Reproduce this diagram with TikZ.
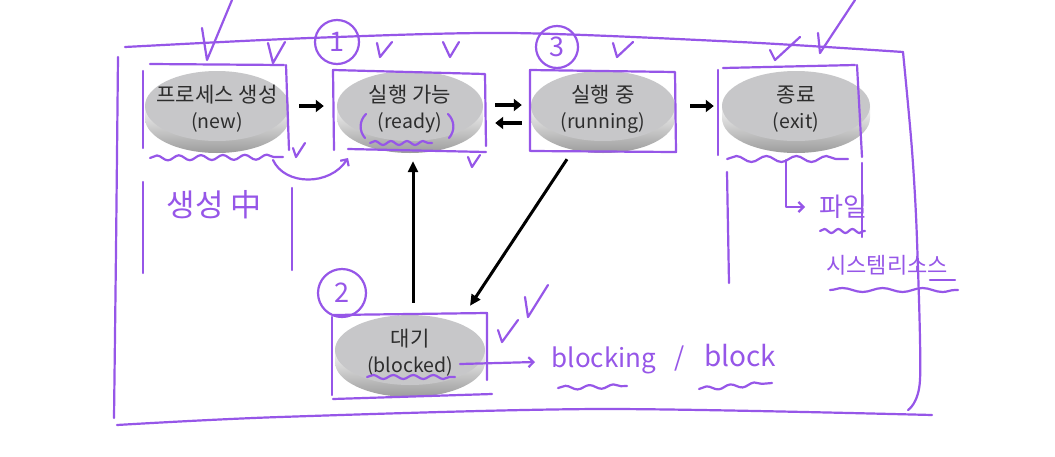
\documentclass[tikz,border=0pt]{standalone}
\usepackage{fontspec}
\setmainfont{Noto Sans CJK KR}
\newfontfamily\ko[Scale=1.08]{Noto Sans CJK KR}
\usetikzlibrary{arrows.meta,shapes.geometric,decorations.pathmorphing,calc}
\definecolor{pp}{RGB}{150,86,232}
\definecolor{txt}{RGB}{45,45,45}
\definecolor{facegray}{RGB}{199,199,201}
\newcommand\procdisc[5]{% name, x, y, rx, text
  \shade[top color=gray!8, bottom color=gray!78] (#2-#4,#3) -- (#2-#4,#3+12)
     arc[start angle=180, end angle=360, x radius=#4pt, y radius=35pt] -- (#2+#4,#3) -- cycle;
  \node[face, minimum width=2*#4pt] (#1) at (#2,#3) {};
  \node[facetext] at ($(#1.center)+(0,3)$) {#5};
}
\begin{document}
\begin{tikzpicture}[x=1pt,y=-1pt,
  face/.style={ellipse, minimum height=70pt, inner sep=0pt, fill=facegray},
  facetext/.style={align=center, inner sep=0pt, font=\fontsize{19.5}{26}\selectfont, text=txt},
  blk/.style={line width=4pt, -{Triangle[length=8pt,width=12pt]}},
  blkl/.style={line width=3pt, -{Triangle[length=11pt,width=10pt]}},
  hand/.style={draw=pp, line width=2.2pt, line cap=round, line join=round},
  wavy/.style={hand, decorate, decoration={snake, amplitude=2.5pt, segment length=22pt}},
  parr/.style={hand, -{Straight Barb[length=5pt,width=10pt]}},
  htext/.style={text=pp, inner sep=0pt},
  num/.style={hand, circle, inner sep=0pt, text=pp, font=\fontsize{27}{27}\selectfont}
]
\fill[white] (0,0) rectangle (1055,456);
\useasboundingbox (0,0) rectangle (1055,456);

% discs
\procdisc{new}{217}{106}{72}{{\ko 프로세스 생성}\\(new)}
\procdisc{ready}{410}{106}{73}{{\ko 실행 가능}\\(ready)}
\procdisc{running}{603}{106}{72}{{\ko 실행 중}\\(running)}
\procdisc{exit}{796}{106}{74}{{\ko 종료}\\(exit)}
\procdisc{blocked}{410}{350}{75}{{\ko 대기}\\(blocked)}

% black transitions
\draw[blk, shorten <=10pt, shorten >=13pt] (new) -- (ready);
\draw[blk, shorten <=12pt, shorten >=9pt] ([yshift=1pt]ready.east) -- ([yshift=1pt]running.west);
\draw[blk, shorten <=9pt, shorten >=12pt] ([yshift=-17pt]running.west) -- ([yshift=-17pt]ready.east);
\draw[blk, shorten <=15pt, shorten >=8pt] (running) -- (exit);
\draw[blkl] ($(blocked.north)+(3,-12)$) -- ($(ready.south)+(3,20)$);
\draw[blkl] ($(running.south)+(-36,18)$) -- ($(blocked.north)+(60,-9)$);

% outer frame
\draw[hand] plot[smooth] coordinates {(125,47) (310,38) (510,33) (740,42) (903,52)};
\draw[hand] plot[smooth] coordinates {(903,52) (912,150) (917,240) (920,380) (908,410)};
\draw[hand] plot[smooth] coordinates {(117,425) (280,417) (600,409) (932,415)};
\draw[hand] plot[smooth] coordinates {(118,57) (116,250) (114,418)};

% boxes
\draw[hand] (150,64) -- (284,65);
\draw[hand] (143,71) -- (143,148);
\draw[hand] (286,65) -- (289,150);
\draw[hand] (334,150) -- (333,70) -- (485,74) -- (486,146);
\draw[hand] (348,149) -- (486,152);
\draw[hand] (530,151) -- (530,70) -- (675,72) -- (676,152) -- (531,151);
\draw[hand] (718,70) -- (718,155);
\draw[hand] (723,68) -- (855,65);
\draw[hand] (857,65) -- (862,157);
\draw[hand] (332,395) -- (332,317);
\draw[hand] (333,315) -- (487,313) -- (487,380);
\draw[hand] (333,399) -- (492,394);

% wavy underlines
\draw[wavy] (150,158) -- (283,157);
\draw[wavy, decoration={snake, amplitude=2pt, segment length=16pt}] (370,143) -- (432,143);
\draw[wavy, decoration={snake, amplitude=3pt, segment length=30pt}] (727,159) -- (848,159);
\draw[wavy, decoration={snake, amplitude=2pt, segment length=20pt}] (367,377) -- (455,377);
\draw[wavy, decoration={snake, amplitude=2pt, segment length=14pt}] (820,231) -- (865,231);
\draw[wavy, decoration={snake, amplitude=2pt, segment length=40pt}] (830,290) -- (958,290);
\draw[hand] (930,280) -- (955,280);
\draw[wavy, decoration={snake, amplitude=2pt, segment length=24pt}] (558,388) -- (627,386);
\draw[wavy, decoration={snake, amplitude=2pt, segment length=24pt}] (699,389) -- (772,383);

% ready parentheses
\draw[hand] (366,114) .. controls (359,121) and (359,131) .. (365,138);
\draw[hand] (448,114) .. controls (455,121) and (455,131) .. (449,138);

% check marks
\draw[hand] (202,28) -- (207,60) -- (232,0);
\draw[hand] (268,43) -- (273,63) -- (285,42);
\draw[hand] (293,148) -- (296,157) -- (305,143);
\draw[hand] (377,43) -- (380,57) -- (392,42);
\draw[hand] (443,42) -- (450,57) -- (459,42);
\draw[hand] (468,157) -- (472,167) -- (480,155);
\draw[hand] (613,43) -- (617,57) -- (633,42);
\draw[hand] (770,50) -- (775,60) -- (800,37);
\draw[hand] (818,33) -- (820,53) -- (855,0);
\draw[hand] (498,330) -- (502,342) -- (518,320);
\draw[hand] (525,297) -- (528,317) -- (548,285);

% circled numbers
\node[num, minimum size=44pt] (n1) at (337,42) {1};
\node[num, minimum size=42pt] (n3) at (557,47) {3};
\node[num, minimum size=48pt] (n2) at (342,293) {2};

% side lines
\draw[hand] (143,182) -- (143,273);
\draw[hand] (292,188) -- (292,270);
\draw[hand] (727,172) -- (729,283);
\draw[hand] (862,163) -- (862,237);

% annotation arrows
\draw[parr] (273,160) .. controls (285,186) and (330,186) .. (348,158);
\coordinate (fileend) at (805,207);
\draw[parr] (786,160) -- (786,207) -- (fileend);
\coordinate (blkend) at (535,362);
\draw[parr] (460,364) -- (blkend);

% handwritten texts
\node[htext, font=\fontsize{31}{31}\selectfont] (t1) at (214,205) {생성 中};
\node[htext, font=\fontsize{26}{26}\selectfont] (t2) at (843,207) {파일};
\node[htext, font=\fontsize{22}{22}\selectfont] (t3) at (887,265) {시스템리소스};
\node[htext, font=\fontsize{26}{26}\selectfont] (t4) at (604,360) {blocking};
\node[htext, font=\fontsize{26}{26}\selectfont] (t5) at (680,358) {/};
\node[htext, font=\fontsize{28}{28}\selectfont] (t6) at (740,356) {block};
\end{tikzpicture}
\end{document}
